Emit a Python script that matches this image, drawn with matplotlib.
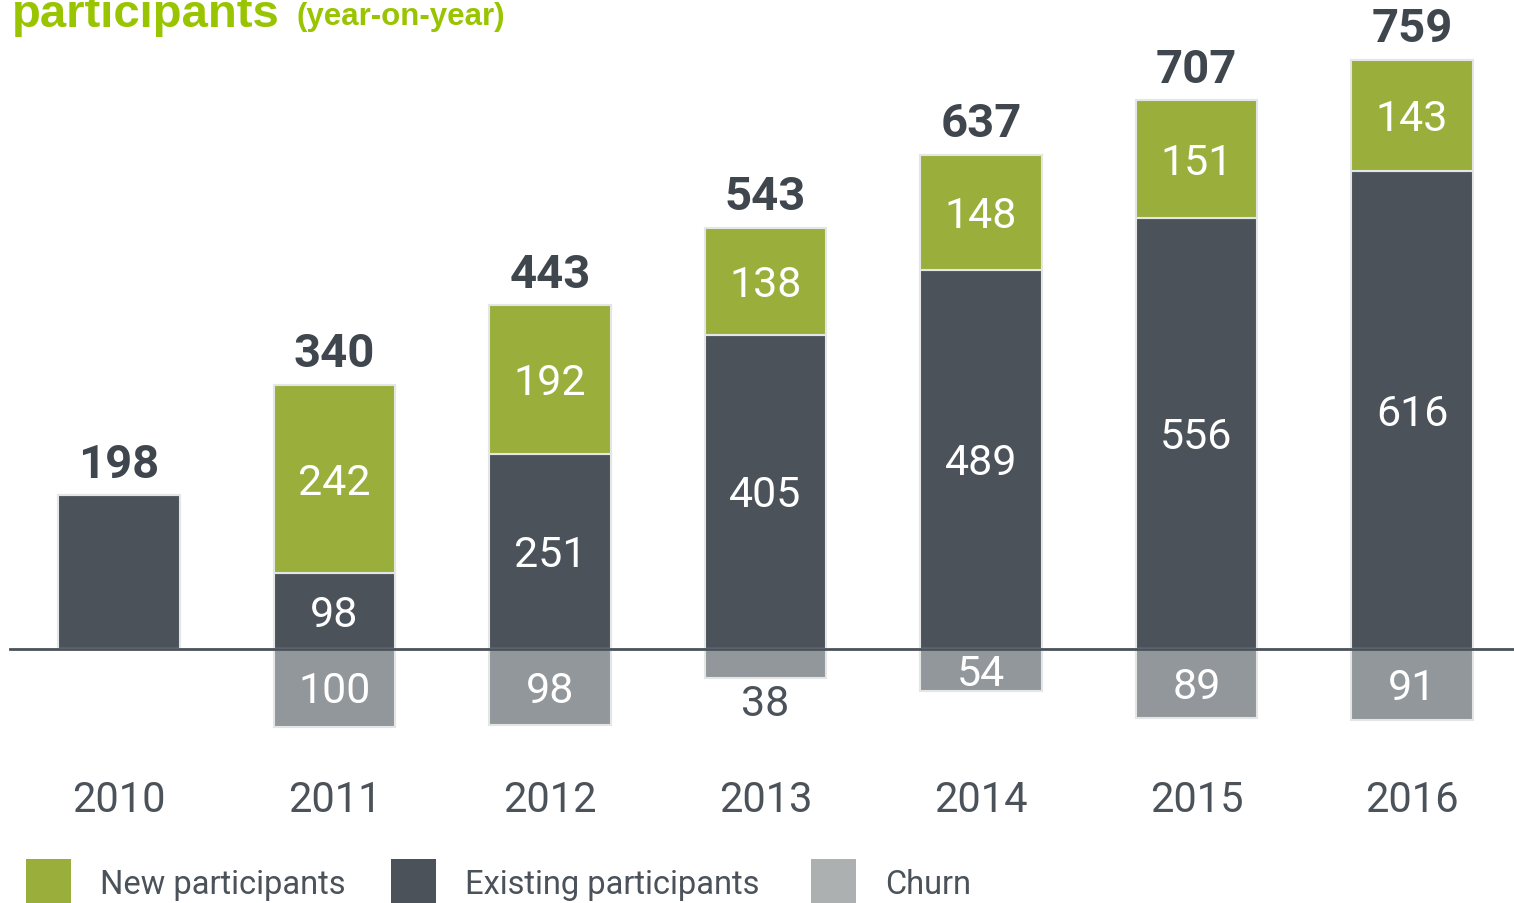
import matplotlib
matplotlib.use("Agg")
import matplotlib.pyplot as plt
from matplotlib.patches import Rectangle

years = ["2010", "2011", "2012", "2013", "2014", "2015", "2016"]
existing = [198, 98, 251, 405, 489, 556, 616]
new = [0, 242, 192, 138, 148, 151, 143]
churn = [0, 100, 98, 38, 54, 89, 91]
totals = [198, 340, 443, 543, 637, 707, 759]

GREEN = "#9AAF3B"
DARK = "#4B525A"
CHURN = "#92979B"
CHURN_LEG = "#ADB0B1"
TEXT = "#4B525A"
EDGE = "#E4E6E6"

W, H = 1514, 904
fig = plt.figure(figsize=(W / 100, H / 100), dpi=100)
ax = fig.add_axes([0, 0, 1, 1])
ax.set_axis_off()

# pixel mapping: bar 0 centre at x=119, spacing 215.5; baseline y=650, 0.776 px/unit
sp = 215.5
ax.set_xlim(-119 / sp, (W - 119) / sp)
scale = 0.776
ax.set_ylim(-(H - 650) / scale, 650 / scale)

x = list(range(len(years)))
bw = 0.566
font = "Roboto"

ax.bar(x, existing, width=bw, color=DARK, edgecolor=EDGE, linewidth=1.5, zorder=2)
ax.bar(x, new, width=bw, bottom=existing, color=GREEN, edgecolor=EDGE, linewidth=1.5, zorder=2)
ax.bar(x, [-c for c in churn], width=bw, color=CHURN, edgecolor=EDGE, linewidth=1.5, zorder=2)
ax.axhline(0, xmin=10 / W, xmax=1, color=DARK, linewidth=2, zorder=3)

lab_fs = 31
for i in x:
    # totals
    ax.annotate(str(totals[i]), (i, totals[i]), xytext=(0, 7), textcoords="offset points",
                ha="center", va="bottom", fontsize=34, fontweight="bold",
                color="#3F464E", family=font)
    if new[i] > 0:
        ax.text(i, existing[i] + new[i] / 2 - 4, str(new[i]), ha="center", va="center",
                fontsize=lab_fs, color="white", family=font)
        ax.text(i, existing[i] / 2 - 4, str(existing[i]), ha="center", va="center",
                fontsize=lab_fs, color="white", family=font)
    if churn[i] > 0:
        if churn[i] < 50:
            ax.text(i, -churn[i] - 32, str(churn[i]), ha="center", va="center",
                    fontsize=lab_fs, color=TEXT, family=font)
        else:
            ax.text(i, -churn[i] / 2 - 4, str(churn[i]), ha="center", va="center",
                    fontsize=lab_fs, color="white", family=font)
    ax.text(i, -(801 - 650) / scale, years[i], ha="center", va="center",
            fontsize=30, color=TEXT, family=font)

# title (partially cut off at top, as in the source)
fig.text(12 / W, 1 - 27 / H, "participants", ha="left", va="baseline",
         fontsize=34, fontweight="bold", color="#99C400", family="Liberation Sans")
fig.text(297 / W, 1 - 25 / H, "(year-on-year)", ha="left", va="baseline",
         fontsize=22.5, fontweight="bold", color="#99C400", family="Liberation Sans")

# legend
legend_items = [("New participants", GREEN, 26, 100),
                ("Existing participants", DARK, 391, 465),
                ("Churn", CHURN_LEG, 811, 885)]
for label, col, sx, tx in legend_items:
    fig.add_artist(Rectangle((sx / W, 0), 45 / W, 44 / H, transform=fig.transFigure,
                             facecolor=col, edgecolor="none"))
    fig.text(tx / W, 1 - 885 / H, label, ha="left", va="center", fontsize=23.5,
             color=TEXT, family=font)

fig.savefig("out.png", dpi=100)
